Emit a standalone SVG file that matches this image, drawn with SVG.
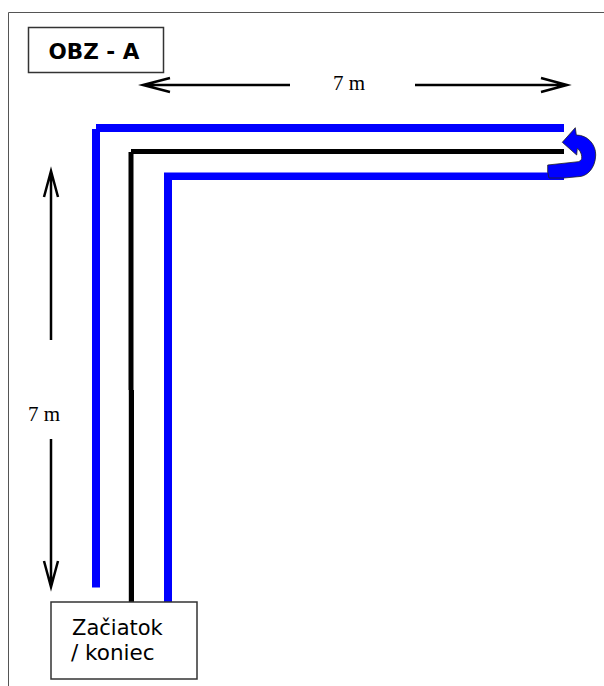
<svg xmlns="http://www.w3.org/2000/svg" width="604" height="686" viewBox="0 0 604 686">
<style>
.blue{fill:#0000ff}
.blk{fill:#000}
.dim{fill:none;stroke:#000;stroke-width:2.500}
.box{fill:#fff;stroke:#333;stroke-width:1.500}
.ser{font-family:"Liberation Serif",serif;font-size:21px;fill:#000}
.san{font-family:"DejaVu Sans",sans-serif;fill:#000}
</style>
<rect width="604" height="686" fill="#fff"/>
<path d="M8.500 686V12.500H604" fill="none" stroke="#555" stroke-width="1"/>
<g id="connectors">
<path class="blue" d="M96 124H564V132H100V587.500H92V129H96Z"/>
<path class="blue" d="M164 172.500H564V180H172V602H164Z"/>
<path class="blk" d="M131 149H564V154H133.500V390H128.500V152H131Z"/>
<path class="blk" d="M128.800 390H134V602H128.800Z"/>
<path id="turn" d="M562.300 142.300L575.300 127.700L576.300 135C588 135 596 145 595.700 155C595.500 168 587 177 578 176.700L564 178L549 178L547.700 172L547.700 165L578.300 161.700C581 161 582 159 581.700 156.700C581.500 153 579.500 150 577.300 148.300L576.700 155Z" fill="#0000ff" stroke="#222" stroke-width="0.800"/>
<path class="dim" d="M290 85H143M170 78L143 85L170 92"/>
<path class="dim" d="M415 85H567M541 78L567 85L541 92"/>
<path class="dim" d="M51 340V171M44 197L51 171L58 197"/>
<path class="dim" d="M51 439V587M44 561L51 587L58 561"/>
</g>
<g id="title"><rect class="box" x="28.500" y="27.500" width="135" height="45"/>
<text class="san" x="94" y="59" font-size="21.500" font-weight="bold" text-anchor="middle">OBZ - A</text></g>
<g id="start"><rect class="box" x="51" y="602" width="146" height="77"/>
<text class="san" x="72" y="635" font-size="21">Začiatok</text>
<text class="san" x="71" y="660" font-size="21.500">/ koniec</text></g>
<text class="ser" x="333" y="90">7 m</text>
<text class="ser" x="28" y="421">7 m</text>
</svg>
